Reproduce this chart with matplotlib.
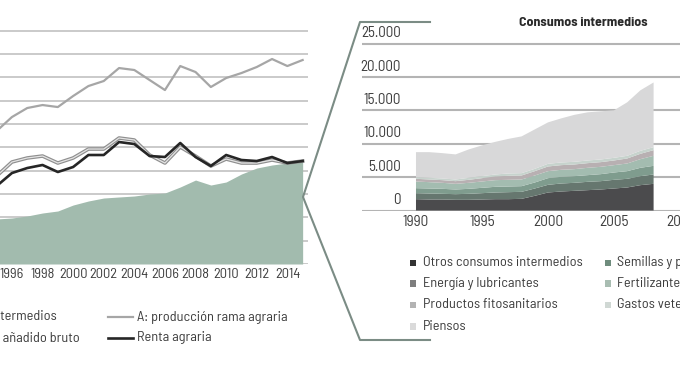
import matplotlib
matplotlib.use('Agg')
import matplotlib.pyplot as plt
from matplotlib.lines import Line2D
from matplotlib.patches import Rectangle
from matplotlib import font_manager

names = {f.name for f in font_manager.fontManager.ttflist}
FAM = [n for n in ['Barlow Semi Condensed', 'Saira SemiCondensed', 'Barlow Condensed', 'DejaVu Sans']
       if n in names] or ['DejaVu Sans']
plt.rcParams['font.family'] = FAM

# ---------------- data: left chart (millones de euros) ----------------
years_l = [1995, 1996, 1997, 1998, 1999, 2000, 2001, 2002, 2003, 2004, 2005,
           2006, 2007, 2008, 2009, 2010, 2011, 2012, 2013, 2014, 2015]
produccion = [28480, 31470, 33400, 34040, 33610, 35970, 38110, 39180, 41960, 41540, 39390,
              37250, 42390, 41110, 37900, 39820, 40890, 42180, 43890, 42390, 43680]
vab = [18840, 21840, 22700, 23120, 21620, 22700, 24620, 24620, 26980, 26550, 23340,
       21620, 25050, 23120, 20980, 22480, 21620, 21620, 22270, 21620, 22050]
renta = [16700, 19480, 20550, 21200, 19700, 20770, 23340, 23340, 26120, 25690, 23120,
         22910, 25910, 22910, 20980, 23340, 22270, 22050, 22910, 21620, 22050]
consumos = [9640, 9850, 10280, 10920, 11350, 12630, 13490, 14130, 14350, 14560, 14990,
            15200, 16490, 17980, 16910, 17560, 19270, 20550, 21200, 21620, 22050]
xticks_l = [1996, 1998, 2000, 2002, 2004, 2006, 2008, 2010, 2012, 2014]

# ---------------- data: right chart (consumos intermedios) ----------------
years_r = [1990, 1991, 1992, 1993, 1994, 1995, 1996, 1997, 1998, 1999,
           2000, 2001, 2002, 2003, 2004, 2005, 2006, 2007, 2008]
otros = [1700, 1650, 1650, 1600, 1600, 1650, 1700, 1700, 1750, 2200,
         2700, 2850, 2950, 3050, 3150, 3300, 3450, 3800, 4000]
semillas = [900, 900, 850, 850, 900, 950, 1000, 1050, 1050, 1100,
            1150, 1200, 1200, 1250, 1250, 1300, 1300, 1350, 1400]
energia = [750, 750, 750, 700, 750, 800, 850, 850, 850, 900,
           1000, 1000, 1000, 1000, 1050, 1100, 1150, 1250, 1300]
fertilizantes = [1000, 950, 900, 850, 900, 950, 1000, 1000, 1000, 1050,
                 1050, 1050, 1050, 1100, 1100, 1100, 1150, 1300, 1500]
fitosanitarios = [400, 400, 400, 400, 450, 500, 550, 600, 600, 650,
                  700, 700, 700, 700, 700, 700, 750, 800, 850]
veterinarios = [250, 250, 250, 250, 300, 300, 300, 350, 350, 350,
                400, 400, 400, 400, 400, 400, 400, 450, 450]
piensos = [3750, 3850, 3800, 3760, 4260, 4610, 4890, 5190, 5510, 5910,
           6210, 6610, 7040, 7220, 7220, 7120, 8020, 9070, 9700]
yticks_r = [0, 5000, 10000, 15000, 20000, 25000]
ytick_labels_r = ['0', '5.000', '10.000', '15.000', '20.000', '25.000']
xticks_r = [1990, 1995, 2000, 2005, 2010]

W, H = 680, 365
fig = plt.figure(figsize=(6.8, 3.65), dpi=100)


def fx(px):
    return px / W


def fy(py):
    return 1 - py / H


TXT = '#3d3d3d'
GREEN = '#a2bbae'

# ---------------- left chart ----------------
px_per_5000 = 23.35
top_val = 50400
hpx = px_per_5000 * top_val / 5000
ax1 = fig.add_axes([fx(0), fy(264), fx(308), hpx / H])
ax1.set_xlim(1995.22, 2015.35)
ax1.set_ylim(0, top_val)
for v in range(0, 50001, 5000):
    ax1.axhline(v, color='#c6c6c6', lw=1.3, zorder=0)
ax1.fill_between(years_l, 0, consumos, color=GREEN, lw=0, zorder=1)
ax1.plot(years_l, produccion, color='#a6a6a6', lw=1.6, zorder=3)
ax1.plot(years_l, vab, color='#8f8f8f', lw=2.6, zorder=3)
ax1.plot(years_l, vab, color='#e4e4e4', lw=0.9, zorder=3)
ax1.plot(years_l, renta, color='#262626', lw=1.9, zorder=4)
for s in ax1.spines.values():
    s.set_visible(False)
ax1.set_yticks([])
ax1.set_xticks(xticks_l)
ax1.set_xticklabels([str(y) for y in xticks_l], fontsize=10.3, color=TXT)
ax1.tick_params(axis='x', length=0, pad=3)

# left legend
LFS = 10.3
fig.text(fx(57), fy(317), 'Consumos intermedios', ha='right', va='center', fontsize=LFS, color=TXT)
fig.text(fx(80), fy(338), 'Valor añadido bruto', ha='right', va='center', fontsize=LFS, color=TXT)
fig.add_artist(Line2D([fx(108), fx(133)], [fy(317), fy(317)], color='#a6a6a6', lw=1.6))
fig.add_artist(Line2D([fx(108), fx(133)], [fy(338), fy(338)], color='#262626', lw=1.9))
fig.text(fx(137), fy(317), 'A: producción rama agraria', ha='left', va='center', fontsize=LFS, color=TXT)
fig.text(fx(137), fy(338), 'Renta agraria', ha='left', va='center', fontsize=LFS, color=TXT)

# ---------------- right chart ----------------
zero_px = 210.5
px5000 = 33.35
top_px = 40
ytop = 5000 * (zero_px - top_px) / px5000
ax2 = fig.add_axes([fx(362), fy(zero_px), fx(680 - 362), (zero_px - top_px) / H])
ax2.set_xlim(1985.91, 2007.69)
ax2.set_ylim(0, ytop)
for s in ax2.spines.values():
    s.set_visible(False)
ax2.set_yticks([])
for v, lab in zip(yticks_r, ytick_labels_r):
    ax2.axhline(v, color='#b4b4b4', lw=1.5, zorder=0)
    ax2.annotate(lab, xy=((401 - 362) / (680 - 362), v), xycoords=('axes fraction', 'data'),
                 xytext=(0, 2.5), textcoords='offset points', ha='right', va='bottom',
                 fontsize=10.8, color=TXT)

layers = [otros, semillas, energia, fertilizantes, fitosanitarios, veterinarios, piensos]
labels = ['Otros consumos intermedios', 'Semillas y plantones', 'Energía y lubricantes',
          'Fertilizantes y enmiendas', 'Productos fitosanitarios', 'Gastos veterinarios', 'Piensos']
colors = ['#4b4b4d', '#66776f', '#7f9c8e', '#a3bcb0', '#b8b0b2', '#c7d3cd', '#d8d8d9']
legend_colors = ['#333333', '#6f8c7d', '#7e7e7e', '#a9bdb2', '#b3b3b3', '#d0d8d4', '#dadada']
ax2.stackplot(years_r, *layers, colors=colors, lw=0, zorder=2)
ax2.set_xticks(xticks_r)
ax2.set_xticklabels([str(y) for y in xticks_r], fontsize=11, color=TXT)
ax2.tick_params(axis='x', length=0, pad=3)

fig.text(fx(583), fy(23), 'Consumos intermedios', ha='center', va='center', fontsize=10,
         fontweight='bold', color='#2a2a2a')

# right legend (two columns, row-wise)
rows = [262.7, 283.5, 305, 326.5]
colx = [(413, 423), (608, 617)]
for i, (lab, c) in enumerate(zip(labels, legend_colors)):
    r, col = divmod(i, 2)
    mx, tx = colx[col]
    fig.add_artist(Rectangle((fx(mx - 3.2), fy(rows[r] + 3.2)), fx(6.4), 6.4 / H,
                             facecolor=c, edgecolor='none'))
    fig.text(fx(tx), fy(rows[r]), lab, ha='left', va='center', fontsize=LFS, color=TXT)

# zoom bracket
BR = '#7b8c85'
fig.add_artist(Line2D([fx(430), fx(360), fx(303), fx(360), fx(430)],
                      [fy(22), fy(22), fy(197), fy(340), fy(340)], color=BR, lw=1.5))

fig.savefig('out.png', dpi=100)
